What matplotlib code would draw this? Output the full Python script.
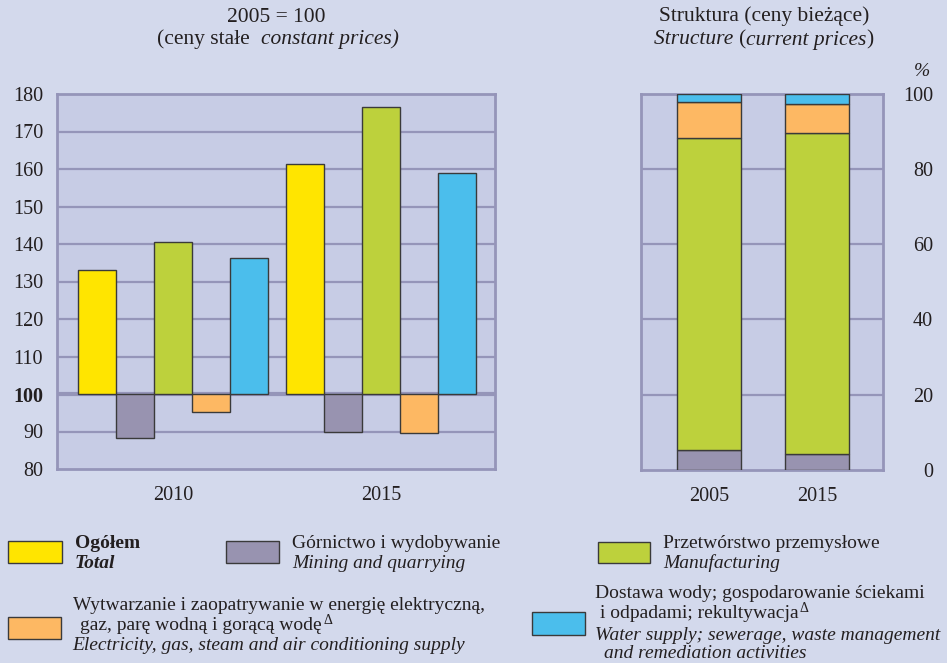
import matplotlib
matplotlib.use("Agg")
import matplotlib.pyplot as plt
import numpy as np

# ---------------- data ----------------
years_left = ["2010", "2015"]
total = [133.1, 161.3]
mining = [88.2, 89.9]
manufacturing = [140.4, 176.6]
electricity = [95.1, 89.7]
water = [136.2, 158.8]

years_right = ["2005", "2015"]
mining_share = [5.3, 4.2]
manuf_share = [83.0, 85.3]
elec_share = [9.6, 7.8]
water_share = [2.1, 2.7]

left_yticks = [80, 90, 100, 110, 120, 130, 140, 150, 160, 170, 180]
right_yticks = [0, 20, 40, 60, 80, 100]

# ---------------- style ----------------
W, H = 947, 663
FIG_BG = "#D3D9EC"
AX_BG = "#C7CCE5"
GRID = "#9595B9"
EDGE = "#3a3a3a"
C_TOTAL = "#FFE500"
C_MIN = "#9893B0"
C_MAN = "#BDD13C"
C_ELE = "#FDB863"
C_WAT = "#4BBEEC"
TXT = "#231F20"

plt.rcParams["font.family"] = ["Liberation Serif", "DejaVu Serif"]
plt.rcParams["text.color"] = TXT

fig = plt.figure(figsize=(W / 100, H / 100), dpi=100, facecolor=FIG_BG)


def fx(x):
    return x / W


def fy(y):
    return 1 - y / H


# ---------------- left chart ----------------
axL = fig.add_axes([fx(57), fy(469), (495 - 57) / W, (469 - 94) / H])
axL.set_facecolor(AX_BG)
series = [total, mining, manufacturing, electricity, water]
colors = [C_TOTAL, C_MIN, C_MAN, C_ELE, C_WAT]
group_centers = np.array([0.0, 5.47])
for i, (vals, col) in enumerate(zip(series, colors)):
    xs = group_centers + (i - 2)
    axL.bar(xs, np.array(vals) - 100, bottom=100, width=1.0, color=col,
            edgecolor=EDGE, linewidth=1.0, zorder=3)
for v in left_yticks[1:-1]:
    axL.axhline(v, color=GRID, lw=3.0 if v == 100 else 1.6, zorder=1 if v != 100 else 2)
axL.set_ylim(80, 180)
axL.set_xlim(-3.05, 8.47)
axL.set_yticks(left_yticks)
axL.set_yticklabels([str(v) for v in left_yticks])
for lab in axL.get_yticklabels():
    if lab.get_text() == "100":
        lab.set_fontweight("bold")
axL.set_xticks(group_centers)
axL.set_xticklabels(years_left)
axL.tick_params(axis="y", length=0, pad=10, labelsize=14.5, colors=TXT)
axL.tick_params(axis="x", length=0, pad=12, labelsize=14.5, colors=TXT)
for s in axL.spines.values():
    s.set_color(GRID)
    s.set_linewidth(2)

# ---------------- right chart ----------------
axR = fig.add_axes([fx(640.7), fy(470), (883 - 640.7) / W, (470 - 93.7) / H])
axR.set_facecolor(AX_BG)
xr = np.array([0.0, 1.0])
bottom = np.zeros(2)
for vals, col in zip([mining_share, manuf_share, elec_share, water_share],
                     [C_MIN, C_MAN, C_ELE, C_WAT]):
    axR.bar(xr, vals, bottom=bottom, width=0.6, color=col, edgecolor=EDGE,
            linewidth=1.0, zorder=3)
    bottom = bottom + np.array(vals)
for v in right_yticks[1:-1]:
    axR.axhline(v, color=GRID, lw=1.6, zorder=1)
axR.set_ylim(0, 100)
axR.set_xlim(-0.632, 1.61)
axR.yaxis.tick_right()
axR.set_yticks(right_yticks)
axR.set_yticklabels([str(v) for v in right_yticks])
axR.set_xticks(xr)
axR.set_xticklabels(years_right)
axR.tick_params(axis="y", length=0, pad=36, labelsize=14.5, colors=TXT)
axR.tick_params(axis="x", length=0, pad=12, labelsize=14.5, colors=TXT)
for lab in axR.get_yticklabels():
    lab.set_horizontalalignment("right")
for s in axR.spines.values():
    s.set_color(GRID)
    s.set_linewidth(2)

# ---------------- rich text helper ----------------
fig.canvas.draw()
renderer = fig.canvas.get_renderer()


def rich(x, y, pieces, ha="left", size=14):
    texts = []
    cur = x
    for s, kw in pieces:
        kw = dict(kw)
        sz = kw.pop("size", size)
        dy = kw.pop("dy", 0)
        dx = kw.pop("dx", 0)
        cur += dx
        t = fig.text(fx(cur), fy(y + dy), s, va="center", ha="left",
                     fontsize=sz, **kw)
        w = t.get_window_extent(renderer).width
        texts.append(t)
        cur += w
    total_w = cur - x
    if ha == "center":
        for t in texts:
            px, py = t.get_position()
            t.set_position((px - total_w / 2 / W, py))
    return texts


# ---------------- titles ----------------
fig.text(fx(276), fy(17), "2005 = 100", ha="center", va="center", fontsize=15.5)
fig.text(fx(250), fy(39), "(ceny stałe", ha="right", va="center", fontsize=15.5)
fig.text(fx(261), fy(39), "constant prices)", ha="left", va="center",
         fontsize=15.5, style="italic")
fig.text(fx(764), fy(16), "Struktura (ceny bieżące)", ha="center", va="center",
         fontsize=15.5)
rich(764, 40, [("Structure ", {"style": "italic"}), ("(", {}),
               ("current prices", {"style": "italic"}), (")", {})],
     ha="center", size=15.5)
fig.text(fx(922), fy(72), "%", ha="center", va="center", fontsize=14,
         style="italic")

# ---------------- legend ----------------
def box(x0, y0, x1, y1, col):
    r = plt.Rectangle((fx(x0), fy(y1)), (x1 - x0) / W, (y1 - y0) / H,
                      transform=fig.transFigure, facecolor=col,
                      edgecolor=EDGE, linewidth=1.0)
    fig.add_artist(r)


LS = 14
box(8, 541, 62, 563, C_TOTAL)
fig.text(fx(75), fy(544), "Ogółem", va="center", fontsize=LS, fontweight="bold")
fig.text(fx(75), fy(564), "Total", va="center", fontsize=LS, fontweight="bold",
         style="italic")

box(226, 541, 279, 563, C_MIN)
fig.text(fx(292), fy(543), "Górnictwo i wydobywanie", va="center", fontsize=LS)
fig.text(fx(292), fy(563), "Mining and quarrying", va="center", fontsize=LS,
         style="italic")

box(598, 542, 650, 563, C_MAN)
fig.text(fx(663), fy(543), "Przetwórstwo przemysłowe", va="center", fontsize=LS)
fig.text(fx(663), fy(563), "Manufacturing", va="center", fontsize=LS,
         style="italic")

box(8, 617, 61, 639, C_ELE)
fig.text(fx(73), fy(605), "Wytwarzanie i zaopatrywanie w energię elektryczną,",
         va="center", fontsize=LS)
rich(80, 625, [("gaz, parę wodną i gorącą wodę", {}),
               ("Δ", {"size": 10, "dy": -5, "dx": 2})], size=LS)
fig.text(fx(72), fy(645), "Electricity, gas, steam and air conditioning supply",
         va="center", fontsize=LS, style="italic")

box(532, 612, 585, 635, C_WAT)
fig.text(fx(595), fy(594), "Dostawa wody; gospodarowanie ściekami",
         va="center", fontsize=LS)
rich(600, 614, [("i odpadami; rekultywacja", {}),
                ("Δ", {"size": 10, "dy": -5, "dx": 1})], size=LS)
fig.text(fx(595), fy(635), "Water supply; sewerage, waste management",
         va="center", fontsize=LS, style="italic")
fig.text(fx(604), fy(654), "and remediation activities", va="center",
         fontsize=LS, style="italic")

fig.savefig("out.png", dpi=100, facecolor=FIG_BG)
